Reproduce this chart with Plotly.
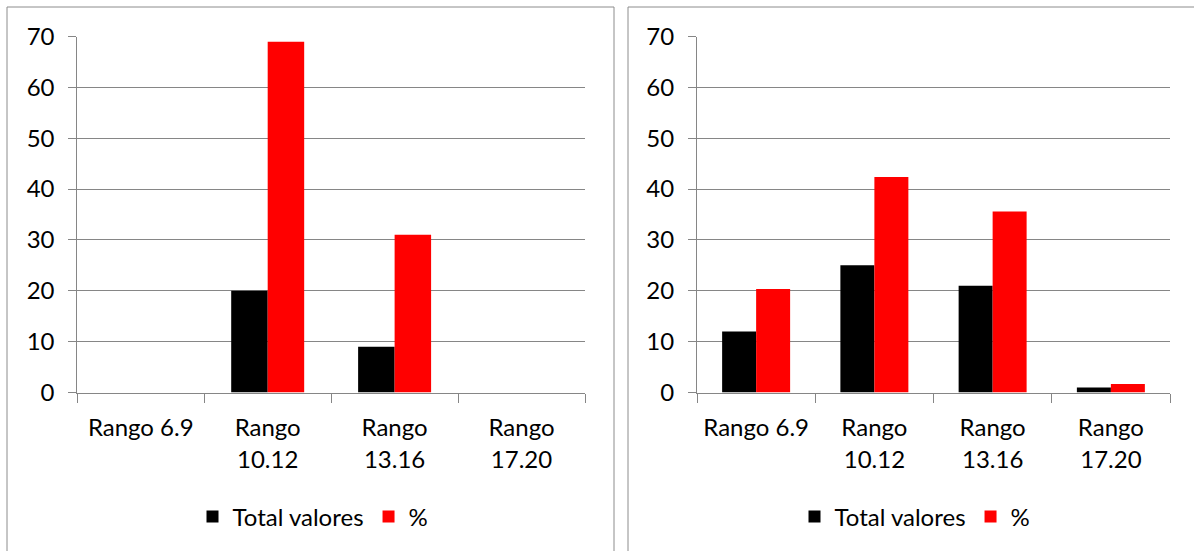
import plotly.graph_objects as go

W, H = 1194, 551

categories = ["Rango 6.9", "Rango<br>10.12", "Rango<br>13.16", "Rango<br>17.20"]
series_names = ["Total valores", "%"]

left_total = [0, 20, 9, 0]
left_pct = [0, 68.97, 31.03, 0]

right_total = [12, 25, 21, 1]
right_pct = [20.34, 42.37, 35.59, 1.69]

y_ticks = [0, 10, 20, 30, 40, 50, 60, 70]

BLACK = "#000000"
RED = "#FF0000"
GRID = "#868686"
BORDER = "#8C8C8C"
FONT = "Lato"
FS = 24


def px_x(p):
    return p / W


def px_y(p):
    return (H - p) / H


fig = go.Figure()

fig.add_trace(go.Bar(x=categories, y=left_total, name=series_names[0], marker_color=BLACK,
                     xaxis="x", yaxis="y", legend="legend"))
fig.add_trace(go.Bar(x=categories, y=left_pct, name=series_names[1], marker_color=RED,
                     xaxis="x", yaxis="y", legend="legend"))
fig.add_trace(go.Bar(x=categories, y=right_total, name=series_names[0], marker_color=BLACK,
                     xaxis="x2", yaxis="y2", legend="legend2"))
fig.add_trace(go.Bar(x=categories, y=right_pct, name=series_names[1], marker_color=RED,
                     xaxis="x2", yaxis="y2", legend="legend2"))

ydom = [px_y(392.5), px_y(36.5)]

xcommon = dict(type="category", showgrid=False, showline=True, linecolor=GRID, linewidth=1,
               ticks="outside", ticklen=9, tickcolor=GRID, tickson="boundaries",
               tickfont=dict(family=FONT, size=FS, color="#000000"), fixedrange=True,
               ticklabelstandoff=14, automargin=False)
ycommon = dict(range=[0, 70], tickvals=y_ticks, showgrid=True, gridcolor=GRID, gridwidth=1,
               showline=True, linecolor=GRID, linewidth=1, ticks="outside", ticklen=8,
               tickcolor=GRID, zeroline=False, tickfont=dict(family=FONT, size=FS, color="#000000"),
               ticklabelstandoff=9, fixedrange=True, automargin=False)

legcommon = dict(orientation="h", xanchor="center", yanchor="middle", y=px_y(517),
                 font=dict(family=FONT, size=FS, color="#000000"), bgcolor="rgba(0,0,0,0)",
                 itemclick=False, itemdoubleclick=False, traceorder="normal")

fig.update_layout(
    template="none",
    width=W, height=H,
    margin=dict(l=0, r=0, t=0, b=0, pad=0, autoexpand=False),
    paper_bgcolor="white", plot_bgcolor="white",
    barmode="group", bargap=0.425, bargroupgap=0,
    showlegend=True,
    xaxis=dict(domain=[px_x(77.3), px_x(585)], anchor="y", **xcommon),
    yaxis=dict(domain=ydom, anchor="x", **ycommon),
    xaxis2=dict(domain=[px_x(697), px_x(1170)], anchor="y2", **xcommon),
    yaxis2=dict(domain=ydom, anchor="x2", **ycommon),
    legend=dict(x=px_x(313), **legcommon),
    legend2=dict(x=px_x(915), **legcommon),
    shapes=[
        dict(type="rect", xref="paper", yref="paper", x0=px_x(7), x1=px_x(614),
             y0=px_y(580), y1=px_y(7), line=dict(color=BORDER, width=1), fillcolor="rgba(0,0,0,0)",
             layer="below"),
        dict(type="rect", xref="paper", yref="paper", x0=px_x(628), x1=px_x(1230),
             y0=px_y(580), y1=px_y(7), line=dict(color=BORDER, width=1), fillcolor="rgba(0,0,0,0)",
             layer="below"),
    ],
)

fig.write_html("out.html", config={"displayModeBar": False})
